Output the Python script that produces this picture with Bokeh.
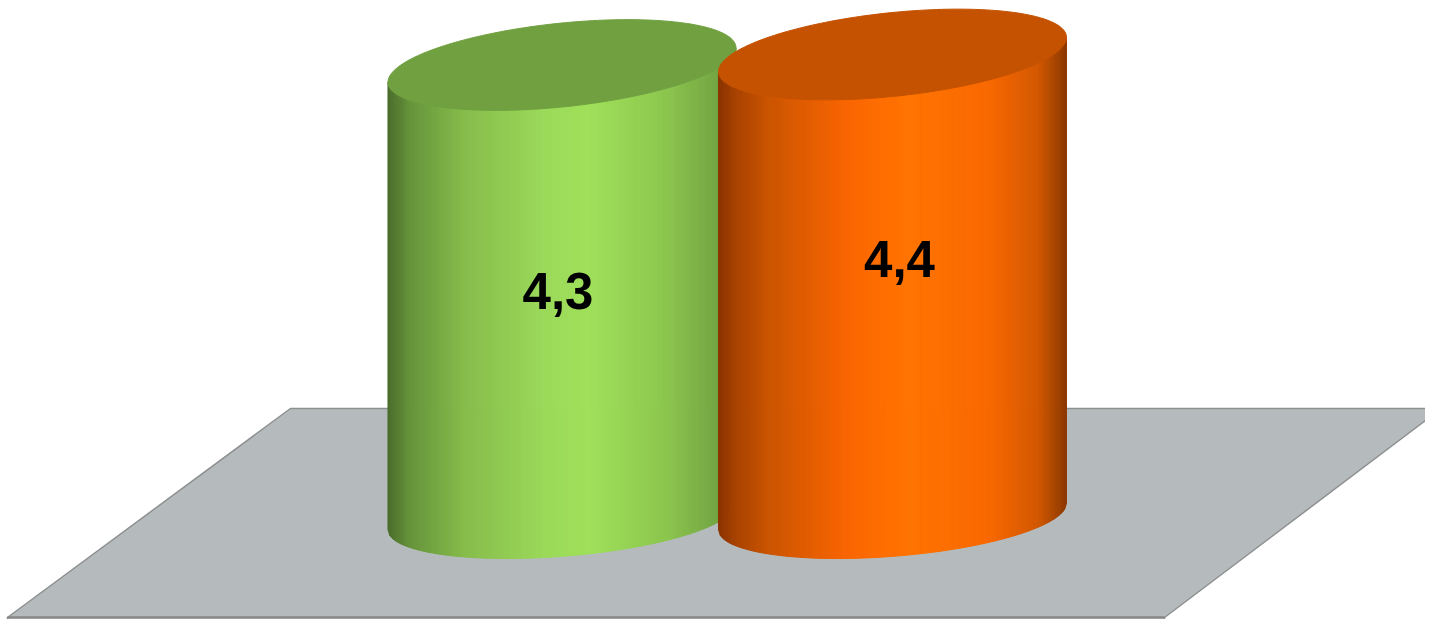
import numpy as np
from bokeh.plotting import figure
from bokeh.models import Range1d
from bokeh.core.properties import value
from bokeh.embed import file_html
from bokeh.resources import INLINE

# ---- data ----
categories = ["Série 1", "Série 2"]
values = [4.3, 4.4]
labels = ["4,3", "4,4"]

# ---- styles ----
side_stops = [
    [(0.0, "#4a6b2a"), (0.06, "#64923a"), (0.22, "#86bc4b"), (0.45, "#9bd95a"),
     (0.58, "#a0e05a"), (0.8, "#8cc64e"), (0.93, "#76a944"), (1.0, "#6a9a3c")],
    [(0.0, "#8a3300"), (0.05, "#a84200"), (0.15, "#cc5500"), (0.38, "#fb6600"),
     (0.55, "#ff7400"), (0.78, "#f86800"), (0.92, "#d25800"), (1.0, "#8c3800")],
]
top_colors = ["#70a040", "#c55200"]
label_dx = [-4, 7]
label_dy = [0, -26]

FLOOR_FILL = "#b5bbbc"
FLOOR_LINE = "#8e9090"

# geometry (data units)
R = 0.5265       # cylinder half-width in category units
B_TOP = 0.40     # top ellipse half-height in value units
B_BOT = 0.38     # bottom ellipse half-height
S_TOP = 0.31     # perspective shear of top ellipse
S_BOT = 0.24     # perspective shear of bottom ellipse


def hex2rgb(h):
    h = h.lstrip("#")
    return np.array([int(h[i:i + 2], 16) for i in (0, 2, 4)], dtype=float)


def shade(stops, t):
    for (t0, c0), (t1, c1) in zip(stops[:-1], stops[1:]):
        if t <= t1:
            f = (t - t0) / (t1 - t0) if t1 > t0 else 0
            c = hex2rgb(c0) * (1 - f) + hex2rgb(c1) * f
            return "#%02x%02x%02x" % tuple(int(round(v)) for v in c)
    return stops[-1][1]


p = figure(width=1425, height=619,
           x_range=Range1d(-1.6989, 2.6127), y_range=Range1d(-0.981, 4.9143),
           x_axis_type=None, y_axis_type=None,
           output_backend="svg", toolbar_location=None, min_border=0)
p.grid.visible = False
p.outline_line_color = None
p.background_fill_color = "white"
p.border_fill_color = "white"

# floor
fx = [-1.678, 1.823, 2.661, -0.8215]
fy = [-0.962, -0.962, 1.0286, 1.0286]
p.patch(fx, fy, fill_color=FLOOR_FILL, line_color=FLOOR_LINE, line_width=1.5)
p.line([fx[0], fx[1]], [fy[0], fy[1]], line_color="#888888", line_width=2.5)
p.segment(x0=[fx[0], fx[1]], y0=[fy[0], fy[1]], x1=[fx[0], fx[1]], y1=[-1.2, -1.2],
          line_color="#8a8a8a", line_width=1.5)

# cylinders
N = 180
for i, v in enumerate(values):
    cx = i
    edges = cx + R * np.linspace(-1, 1, N + 1)
    u = (edges - cx) / R
    root = np.sqrt(np.clip(1 - u ** 2, 0, 1))
    yb = S_BOT * (edges - cx) - B_BOT * root
    yt = v + S_TOP * (edges - cx) - B_TOP * root
    xs, ys, cols = [], [], []
    for k in range(N):
        xs.append([edges[k], edges[k + 1], edges[k + 1], edges[k]])
        ys.append([yb[k], yb[k + 1], yt[k + 1], yt[k]])
        cols.append(shade(side_stops[i], (k + 0.5) / N))
    p.patches(xs, ys, fill_color=cols, line_color=cols, line_width=1)
    th = np.linspace(0, 2 * np.pi, 240)
    ex = cx + R * np.cos(th)
    ey = v + S_TOP * R * np.cos(th) + B_TOP * np.sin(th)
    p.patch(ex, ey, fill_color=top_colors[i], line_color=top_colors[i], line_width=1)

# labels
p.text(x=list(range(len(values))), y=[v / 2 for v in values], text=labels,
       x_offset=label_dx, y_offset=label_dy,
       text_font=value("Liberation Sans"), text_font_style="bold",
       text_font_size="51px", text_color="black",
       text_align="center", text_baseline="middle")

open("out.html", "w").write(file_html(p, INLINE))
